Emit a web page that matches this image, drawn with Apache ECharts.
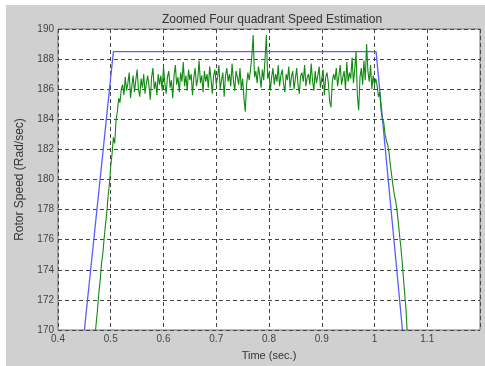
<!DOCTYPE html>
<html>
<head>
<meta charset="utf-8">
<script src="https://cdn.jsdelivr.net/npm/echarts@6/dist/echarts.min.js"></script>
<style>
  html, body { margin: 0; padding: 0; background: #ffffff; }
  #chart { position: absolute; left: 6px; top: 5px; width: 479px; height: 361px; background: #d0d0d0; }
</style>
</head>
<body>
<div id="chart"></div>
<script>
// Reference speed (blue): breakpoints [time, speed]
const refTime  = [0.450, 0.505, 1.003, 1.053];
const refSpeed = [170.0, 188.5, 188.5, 170.0];

// Estimated speed (green): samples every 0.0025 s starting at 0.4700 s
const estStart = 0.4700;
const estStep = 0.0025;
const estRampUp = [169.5, 170.5, 171.4, 172.5, 173.3, 174.4, 175.1, 176.1, 177.0, 177.8, 178.9, 179.7, 180.9, 181.7, 182.8, 182.4, 183.9, 184.5, 185.4, 185.1, 186.0];
const estSteady = [
  186.3, 185.6, 186.8, 185.9, 186.4, 187.1, 185.4, 186.2, 186.9, 185.8, 186.6, 187.3, 186.0, 185.5, 186.7, 186.1, 187.0, 185.7, 186.4, 186.9,
  186.2, 185.3, 186.8, 187.4, 186.0, 186.5, 185.6, 187.0, 186.3, 186.9, 185.9, 187.5, 186.4, 185.7, 186.8, 187.2, 186.1, 186.6, 185.4, 186.9,
  187.6, 186.3, 186.8, 185.8, 187.1, 186.5, 187.8, 186.2, 186.9, 185.9, 187.3, 186.6, 187.0, 185.6, 186.8, 187.4, 186.2, 186.7, 187.9, 186.4,
  186.9, 185.8, 187.2, 186.5, 187.0, 186.1, 187.5, 186.7, 185.7, 186.9, 187.3, 186.3, 186.8, 187.6, 186.0, 186.6, 187.1, 185.5, 186.9, 187.4,
  186.5, 187.0, 186.2, 187.7, 186.6, 185.9, 187.2, 186.8, 186.3, 187.4, 186.0, 186.7, 185.4, 184.5, 186.3, 187.1, 186.6, 187.3, 188.2, 189.6,
  186.8, 187.2, 186.4, 187.5, 186.9, 186.1, 187.3, 186.6, 188.0, 189.6, 186.7, 187.1, 185.9, 186.8, 187.4, 186.3, 187.0, 186.5, 187.6, 186.2,
  186.9, 187.3, 186.4, 185.8, 187.0, 186.6, 187.5, 186.1, 186.8, 187.2, 186.0, 186.7, 187.4, 186.3, 185.7, 186.9, 187.1, 186.5, 187.6, 186.2,
  186.8, 187.0, 186.3, 187.7, 186.6, 185.9, 187.2, 186.4, 186.9, 187.5, 186.1, 186.7, 187.3, 185.6, 186.8, 187.1, 186.4, 185.2, 184.8, 186.5,
  187.0, 186.6, 187.4, 186.2, 186.9, 187.6, 186.3, 186.8, 187.2, 186.0, 187.8, 186.5, 187.1, 186.7, 188.1, 186.4, 187.3, 188.5, 185.6, 184.6,
  186.8, 187.4, 186.3, 187.9, 186.6, 189.0, 187.2, 186.5, 187.6, 186.0, 186.9, 186.3, 186.7
];
const estRampDown = [186.2, 185.5, 185.8, 184.6, 184.0, 183.8, 183.0, 182.6, 182.3, 181.8, 181.0, 180.3, 179.6, 179.0, 178.6, 178.0, 177.2, 176.3, 175.5, 174.5, 173.4, 172.3, 171.2, 169.5];

// Axis ticks
const xTicks = [0.4, 0.5, 0.6, 0.7, 0.8, 0.9, 1, 1.1, 1.2];
const yTicks = [170, 172, 174, 176, 178, 180, 182, 184, 186, 188, 190];

const estValues = estRampUp.concat(estSteady, estRampDown);
const estData = estValues.map((v, i) => [+(estStart + i * estStep).toFixed(4), v]);
const refData = refTime.map((t, i) => [t, refSpeed[i]]);

const chart = echarts.init(document.getElementById('chart'), null, { renderer: 'canvas' });
const font = 'Liberation Sans, Arial, sans-serif';
const gridLine = { show: true, lineStyle: { color: '#444', type: [4, 3], width: 1 } };

chart.setOption({
  animation: false,
  backgroundColor: '#d0d0d0',
  textStyle: { fontFamily: font },
  title: {
    text: 'Zoomed Four quadrant Speed Estimation',
    left: 261, top: 4, textAlign: 'center',
    textStyle: { fontSize: 12, fontWeight: 'normal', color: '#333', fontFamily: font }
  },
  grid: {
    left: 49, top: 24, right: 5, bottom: 36,
    show: true, backgroundColor: '#ffffff', borderColor: '#777', borderWidth: 1
  },
  xAxis: {
    type: 'value',
    min: xTicks[0], max: xTicks[xTicks.length - 1], interval: 0.1,
    name: 'Time (sec.)', nameLocation: 'middle', nameGap: 20,
    nameTextStyle: { fontSize: 11, color: '#333', fontFamily: font },
    axisLine: { show: false },
    axisTick: { show: false },
    axisLabel: {
      fontSize: 10, color: '#444', margin: 4, fontFamily: font,
      showMaxLabel: false,
      formatter: v => String(Math.round(v * 10) / 10)
    },
    splitLine: gridLine
  },
  yAxis: {
    type: 'value',
    min: yTicks[0], max: yTicks[yTicks.length - 1], interval: 2,
    name: 'Rotor Speed (Rad/sec)', nameLocation: 'middle', nameGap: 32,
    nameTextStyle: { fontSize: 12, color: '#333', fontFamily: font },
    axisLine: { show: false },
    axisTick: { show: false },
    axisLabel: { fontSize: 10, color: '#444', margin: 4, fontFamily: font },
    splitLine: gridLine
  },
  series: [
    {
      type: 'line', data: refData, showSymbol: false, symbol: 'none',
      lineStyle: { color: '#5b5bff', width: 1.3 }, clip: true, z: 2
    },
    {
      type: 'line', data: estData, showSymbol: false, symbol: 'none',
      lineStyle: { color: '#118a11', width: 1.1 }, clip: true, z: 3
    }
  ]
});
</script>
</body>
</html>
